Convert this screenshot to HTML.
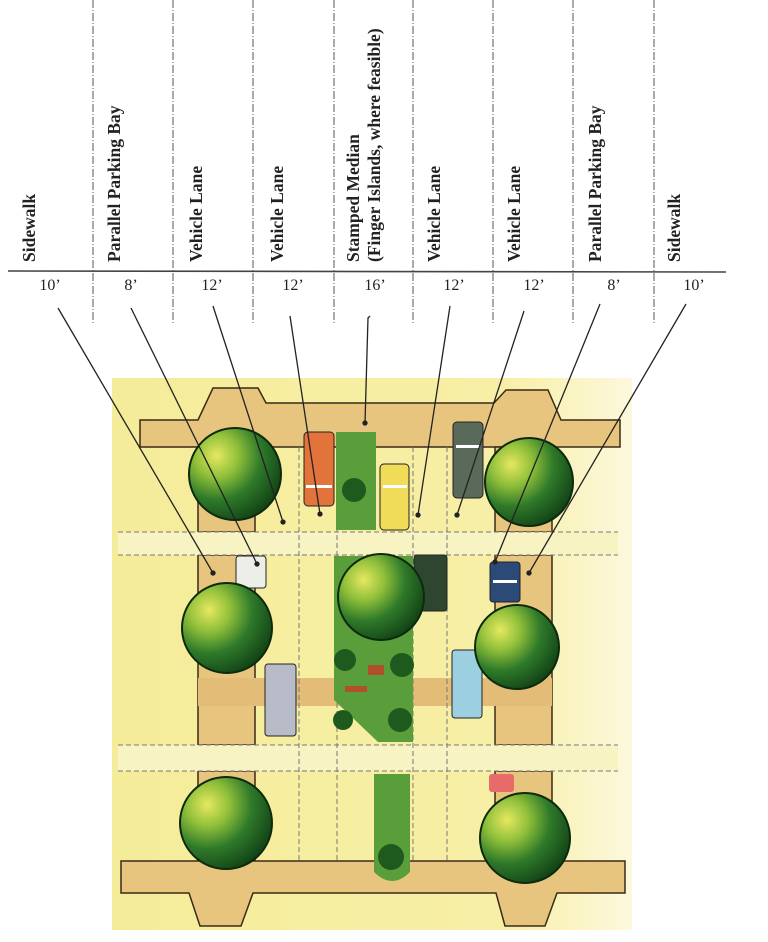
<!DOCTYPE html>
<html><head><meta charset="utf-8"><style>
html,body{margin:0;padding:0;background:#fff;}
svg{display:block;}
.t{font-family:"Liberation Serif",serif;font-weight:bold;font-size:17.5px;fill:#222;}
.n{font-family:"Liberation Serif",serif;font-size:16px;fill:#222;}
</style></head><body>
<svg width="768" height="942" viewBox="0 0 768 942" xmlns="http://www.w3.org/2000/svg">
<defs>
<linearGradient id="bg" x1="0" x2="1" y1="0" y2="0">
<stop offset="0" stop-color="#f5ec9a"/><stop offset="0.75" stop-color="#f7efa6"/><stop offset="1" stop-color="#fcf8dc"/>
</linearGradient>
<radialGradient id="tr" cx="0.3" cy="0.3" r="0.8">
<stop offset="0" stop-color="#e6e860"/><stop offset="0.3" stop-color="#8fbf3a"/><stop offset="0.6" stop-color="#2f7a2a"/><stop offset="1" stop-color="#0f3d14"/>
</radialGradient>
</defs>
<rect width="768" height="942" fill="#fff"/>
<g stroke="#555" stroke-width="1" stroke-dasharray="8,2,1,2">
<line x1="93" y1="0" x2="93" y2="325"/><line x1="173" y1="0" x2="173" y2="325"/>
<line x1="253" y1="0" x2="253" y2="325"/><line x1="334" y1="0" x2="334" y2="325"/>
<line x1="413" y1="0" x2="413" y2="325"/><line x1="493" y1="0" x2="493" y2="325"/>
<line x1="573" y1="0" x2="573" y2="325"/><line x1="654" y1="0" x2="654" y2="325"/>
</g>
<line x1="8" y1="271" x2="726" y2="272" stroke="#444" stroke-width="1.6"/>
<g class="t">
<text transform="translate(35,262) rotate(-90)">Sidewalk</text>
<text transform="translate(120,262) rotate(-90)">Parallel Parking Bay</text>
<text transform="translate(202,262) rotate(-90)">Vehicle Lane</text>
<text transform="translate(283,262) rotate(-90)">Vehicle Lane</text>
<text transform="translate(359,262) rotate(-90)">Stamped Median</text>
<text transform="translate(380,262) rotate(-90)">(Finger Islands, where feasible)</text>
<text transform="translate(440,262) rotate(-90)">Vehicle Lane</text>
<text transform="translate(520,262) rotate(-90)">Vehicle Lane</text>
<text transform="translate(601,262) rotate(-90)">Parallel Parking Bay</text>
<text transform="translate(680,262) rotate(-90)">Sidewalk</text>
</g>
<g class="n" text-anchor="middle">
<text x="50" y="290">10’</text><text x="131" y="290">8’</text><text x="212" y="290">12’</text>
<text x="293" y="290">12’</text><text x="375" y="290">16’</text><text x="454" y="290">12’</text>
<text x="534" y="290">12’</text><text x="614" y="290">8’</text><text x="694" y="290">10’</text>
</g>
<rect x="112" y="378" width="520" height="552" fill="url(#bg)"/>
<g fill="#e7c57e" stroke="#3a2a18" stroke-width="1.5">
<path d="M140,420 L198,420 L213,388 L258,388 L266,403 L494,403 L506,390 L548,390 L561,420 L620,420 L620,447 L140,447 Z"/>
<rect x="198" y="447" width="57" height="85"/>
<rect x="495" y="447" width="57" height="85"/>
<rect x="198" y="555" width="57" height="190"/>
<rect x="495" y="555" width="57" height="190"/>
<rect x="198" y="771" width="57" height="90"/>
<rect x="495" y="771" width="57" height="90"/>
<path d="M121,861 L625,861 L625,893 L557,893 L545,926 L505,926 L496,893 L253,893 L241,926 L200,926 L189,893 L121,893 Z"/>
</g>
<rect x="198" y="678" width="354" height="28" fill="#e3bd78"/>
<rect x="118" y="532" width="500" height="23" fill="#f8f3c2"/>
<rect x="118" y="745" width="500" height="26" fill="#f8f3c2"/>
<g stroke="#777" stroke-width="1" stroke-dasharray="5,3">
<line x1="118" y1="532" x2="618" y2="532"/><line x1="118" y1="555" x2="618" y2="555"/>
<line x1="118" y1="745" x2="618" y2="745"/><line x1="118" y1="771" x2="618" y2="771"/>
<line x1="299" y1="447" x2="299" y2="861"/><line x1="337" y1="447" x2="337" y2="861"/>
<line x1="447" y1="447" x2="447" y2="861"/><line x1="413" y1="447" x2="413" y2="861"/>
</g>
<g fill="#5a9e3c">
<rect x="336" y="432" width="40" height="98"/>
<path d="M334,556 L413,556 L413,742 L378,742 L334,700 Z"/>
<path d="M374,774 L410,774 L410,872 Q392,890 374,872 Z"/>
</g>
<g fill="#1e5a1e">
<circle cx="354" cy="490" r="12"/><circle cx="391" cy="857" r="13"/>
<circle cx="345" cy="660" r="11"/><circle cx="402" cy="665" r="12"/>
<circle cx="343" cy="720" r="10"/><circle cx="400" cy="720" r="12"/>
</g>
<rect x="368" y="665" width="16" height="10" fill="#b0502a"/>
<rect x="345" y="686" width="22" height="6" fill="#b0502a"/>
<g stroke="#222" stroke-width="1">
<rect x="304" y="432" width="30" height="74" rx="4" fill="#e2733a"/>
<rect x="380" y="464" width="29" height="66" rx="4" fill="#f1dc5a"/>
<rect x="453" y="422" width="30" height="76" rx="4" fill="#5a6a5a"/>
<rect x="236" y="556" width="30" height="32" rx="3" fill="#eeeee8"/>
<rect x="414" y="555" width="33" height="56" rx="3" fill="#2e4630"/>
<rect x="490" y="562" width="30" height="40" rx="3" fill="#2c4a78"/>
<rect x="265" y="664" width="31" height="72" rx="3" fill="#b8bcc8"/>
<rect x="452" y="650" width="30" height="68" rx="3" fill="#9cd0e0"/>
<rect x="489" y="774" width="25" height="18" rx="3" fill="#e86a6a" stroke="none"/>
</g>
<g fill="#fff"><rect x="306" y="485" width="26" height="3"/><rect x="383" y="485" width="24" height="3"/><rect x="456" y="445" width="24" height="3"/><rect x="493" y="580" width="24" height="3"/></g>
<g fill="url(#tr)" stroke="#0c2a0c" stroke-width="2">
<circle cx="235" cy="474" r="46"/>
<circle cx="227" cy="628" r="45"/>
<circle cx="226" cy="823" r="46"/>
<circle cx="529" cy="482" r="44"/>
<circle cx="517" cy="647" r="42"/>
<circle cx="525" cy="838" r="45"/>
<circle cx="381" cy="597" r="43"/>
</g>
<g stroke="#222" stroke-width="1.3" fill="#222">
<line x1="58" y1="308" x2="213" y2="573"/><circle cx="213" cy="573" r="2"/>
<line x1="131" y1="308" x2="257" y2="564"/><circle cx="257" cy="564" r="2"/>
<line x1="213" y1="306" x2="283" y2="522"/><circle cx="283" cy="522" r="2"/>
<line x1="290" y1="316" x2="320" y2="514"/><circle cx="320" cy="514" r="2"/>
<polyline points="370,316 368,318 365,423" fill="none"/><circle cx="365" cy="423" r="2"/>
<line x1="450" y1="306" x2="418" y2="515"/><circle cx="418" cy="515" r="2"/>
<line x1="524" y1="311" x2="457" y2="515"/><circle cx="457" cy="515" r="2"/>
<line x1="600" y1="304" x2="495" y2="562"/><circle cx="495" cy="562" r="2"/>
<line x1="686" y1="304" x2="529" y2="573"/><circle cx="529" cy="573" r="2"/>
</g>
</svg>
</body></html>
